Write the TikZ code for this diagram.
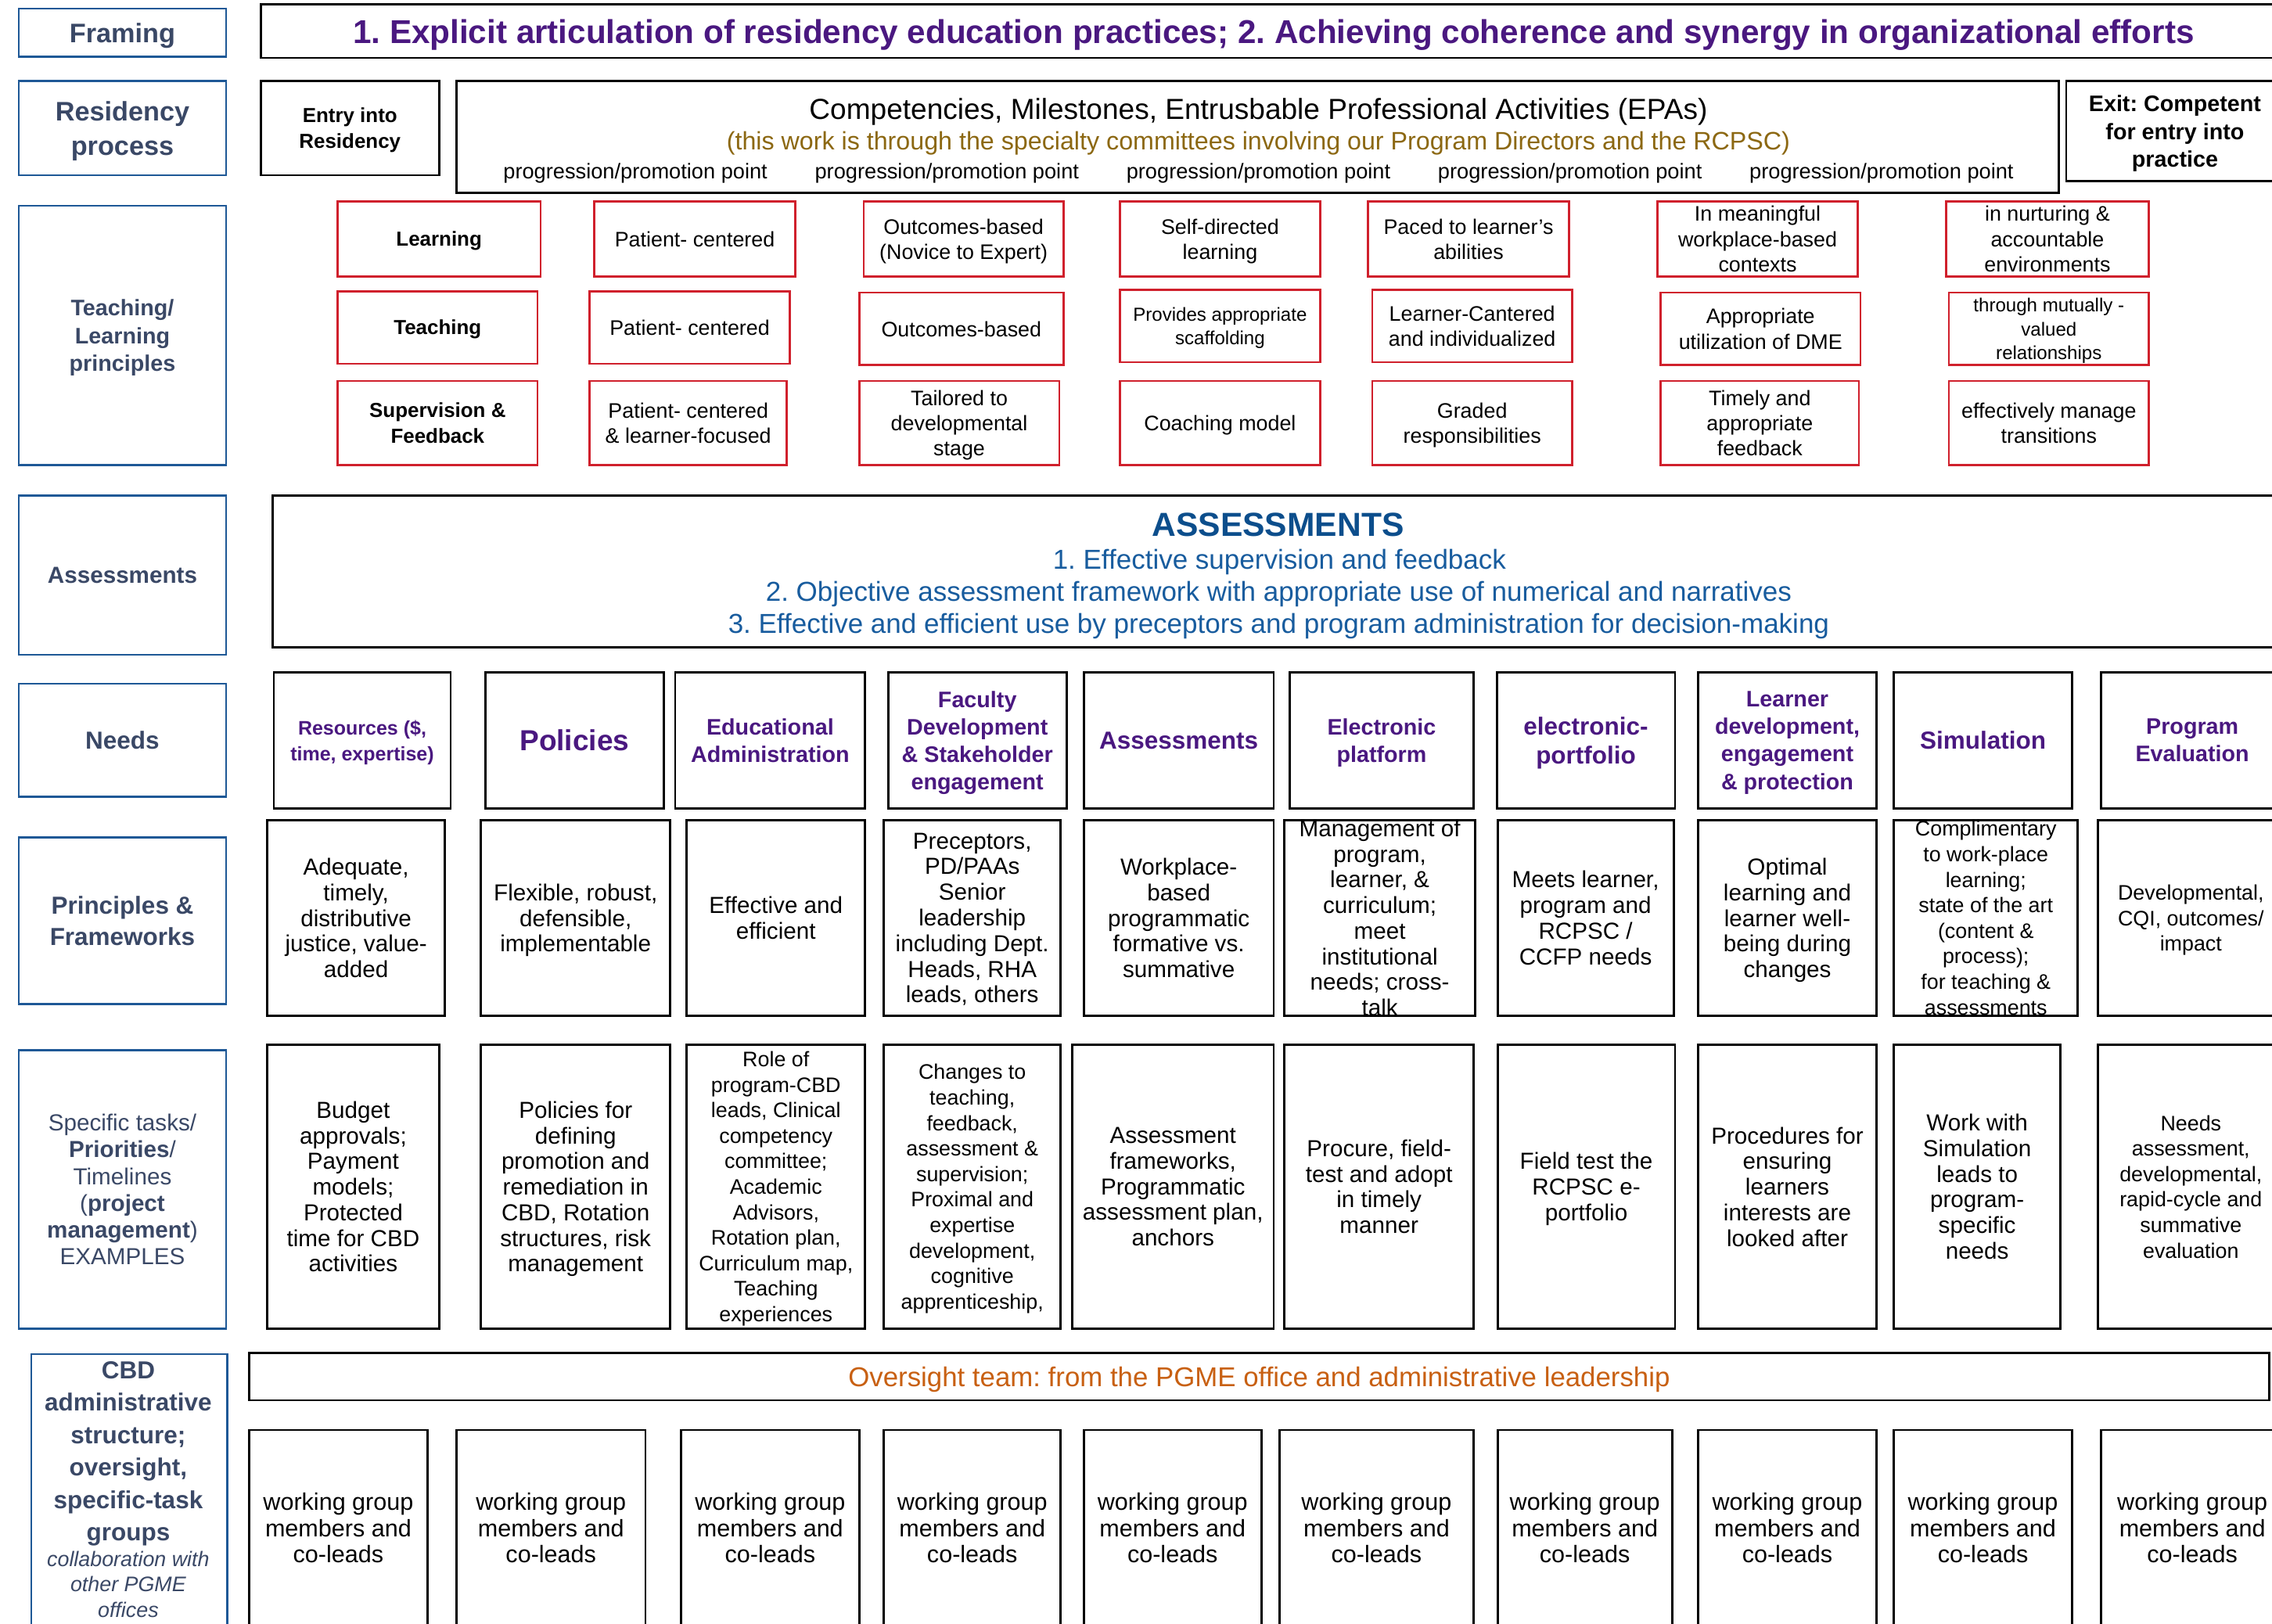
\documentclass[tikz,border=0pt]{standalone}
\usepackage{fontspec}
\setmainfont{Liberation Sans}
\frenchspacing
\definecolor{labblue}{RGB}{30,88,150}
\definecolor{labtext}{RGB}{58,72,102}
\definecolor{ttlpurple}{RGB}{74,24,128}
\definecolor{asmblue}{RGB}{12,78,140}
\definecolor{asmline}{RGB}{24,92,158}
\definecolor{olivetxt}{RGB}{140,104,18}
\definecolor{ovorange}{RGB}{200,96,18}
\definecolor{boxred}{RGB}{208,32,44}
\tikzset{
  labbox/.style={draw=labblue, line width=1.4pt, inner sep=0pt},
  blkbox/.style={draw=black, line width=1.5pt, inner sep=0pt},
  redbox/.style={draw=boxred, line width=1.4pt, inner sep=0pt},
  txt/.style={align=center, inner sep=0pt, text=black, text depth=0pt},
  labb/.style={text=labtext, font=\bfseries\fontsize{15.5}{19}\selectfont},
  rtxt/.style={font=\fontsize{14.5}{17.5}\selectfont},
  rbold/.style={font=\bfseries\fontsize{14}{18}\selectfont},
  rsmall/.style={font=\fontsize{13}{16.5}\selectfont},
  ndb/.style={text=ttlpurple, font=\bfseries\fontsize{15.5}{19}\selectfont},
  ndbig/.style={text=ttlpurple, font=\bfseries\fontsize{17}{20}\selectfont},
  prt/.style={font=\fontsize{16}{17.7}\selectfont},
  prsm/.style={font=\fontsize{14.5}{17.6}\selectfont},
  asmtxt/.style={text=asmline, font=\fontsize{18.9}{22}\selectfont},
}
\newcommand{\cell}[8]{%
  \pgfmathsetmacro\qqcx{(#3+#5)/2}%
  \pgfmathsetmacro\qqcy{(#4+#6)/2}%
  \pgfmathsetmacro\qqw{#5-#3}%
  \pgfmathsetmacro\qqh{#6-#4}%
  \node[#2, minimum width=\qqw pt, minimum height=\qqh pt] (#1) at (\qqcx,\qqcy) {};%
  \node[txt, #7] (#1t) at (#1.center) {#8};%
}
\begin{document}
\begin{tikzpicture}[x=1pt, y=-1pt]
\useasboundingbox (0,0) rectangle (1568,1120.4);
\fill[white] (0,0) rectangle (1568,1120.4);
\clip (0,0) rectangle (1568,1120.4);

% ---------- left labels ----------
\cell{lFr}{labbox}{13}{6}{156}{39}{labb, font=\bfseries\fontsize{18.5}{22}\selectfont}{Framing}
\cell{lRe}{labbox}{13}{56}{156}{121}{labb, font=\bfseries\fontsize{18.5}{24}\selectfont}{Residency\\process}
\cell{lTe}{labbox}{13}{142}{156}{321}{labb}{Teaching/\\Learning\\principles}
\cell{lAs}{labbox}{13}{342}{156}{452}{labb, font=\bfseries\fontsize{16}{19}\selectfont}{Assessments}
\cell{lNe}{labbox}{13}{472}{156}{550}{labb, font=\bfseries\fontsize{17}{20}\selectfont}{Needs}
\cell{lPr}{labbox}{13}{578}{156}{693}{labb, font=\bfseries\fontsize{17}{22}\selectfont}{Principles \&\\Frameworks}
\cell{lSp}{labbox}{13}{725}{156}{917}{text=labtext, font=\fontsize{16}{18.5}\selectfont}{Specific tasks/\\\textbf{Priorities}/\\Timelines\\(\textbf{project}\\\textbf{management})\\EXAMPLES}
\node[labbox, minimum width=135pt, minimum height=190pt, anchor=north west] (lCb) at (21,934) {};
\node[txt, text=labtext, font=\bfseries\fontsize{17}{22.4}\selectfont] (lCbt) at (88.5,1001.5) {CBD\\administrative\\structure;\\oversight,\\specific-task\\groups};
\node[txt, text=labtext, font=\itshape\fontsize{14.5}{17.5}\selectfont] (lCbi) at (88.5,1093.5) {collaboration with\\other PGME\\offices};

% ---------- framing ----------
\cell{ttl}{blkbox}{180}{3}{1578}{40}{text=ttlpurple, font=\bfseries\fontsize{22.8}{26}\selectfont}{1. Explicit articulation of residency education practices; 2. Achieving coherence and synergy in organizational efforts}

% ---------- residency process ----------
\cell{entry}{blkbox}{180}{56}{303}{121}{font=\bfseries\fontsize{14}{18}\selectfont}{Entry into\\Residency}
\node[blkbox, minimum width=1106pt, minimum height=77pt] (comp) at (868,94.5) {};
\node[txt, font=\fontsize{20}{24}\selectfont] (compa) at (868.5,75) {Competencies, Milestones, Entrusbable Professional Activities (EPAs)};
\node[txt, text=olivetxt, font=\fontsize{17.4}{20}\selectfont] (compb) at (868.5,97) {(this work is through the specialty committees involving our Program Directors and the RCPSC)};
\foreach \i/\xx in {1/438.5, 2/653.5, 3/868.5, 4/1083.5, 5/1298.5}
  \node[txt, font=\fontsize{14.7}{17}\selectfont] (pp\i) at (\xx,118) {progression/promotion point};
\cell{exit}{blkbox}{1426}{56}{1576}{125}{font=\bfseries\fontsize{15.5}{19}\selectfont}{Exit: Competent\\for entry into\\practice}

% ---------- teaching / learning principles ----------
\cell{r11}{redbox}{233}{139}{373}{191}{rbold}{Learning}
\cell{r12}{redbox}{410}{139}{549}{191}{rtxt}{Patient- centered}
\cell{r13}{redbox}{596}{139}{734}{191}{rtxt}{Outcomes-based\\(Novice to Expert)}
\cell{r14}{redbox}{773}{139}{911}{191}{rtxt}{Self-directed\\learning}
\cell{r15}{redbox}{944}{139}{1083}{191}{rtxt}{Paced to learner’s\\abilities}
\cell{r16}{redbox}{1144}{139}{1282}{191}{rtxt}{In meaningful\\workplace-based\\contexts}
\cell{r17}{redbox}{1343}{139}{1483}{191}{rtxt}{in nurturing \&\\accountable\\environments}
\cell{r21}{redbox}{233}{201}{371}{251}{rbold}{Teaching}
\cell{r22}{redbox}{407}{201}{545}{251}{rtxt}{Patient- centered}
\cell{r23}{redbox}{593}{202}{734}{252}{rtxt}{Outcomes-based}
\cell{r24}{redbox}{773}{200}{911}{250}{rsmall}{Provides appropriate\\scaffolding}
\cell{r25}{redbox}{947}{200}{1085}{250}{rtxt}{Learner-Cantered\\and individualized}
\cell{r26}{redbox}{1146}{202}{1284}{252}{rtxt}{Appropriate\\utilization of DME}
\cell{r27}{redbox}{1345}{202}{1483}{252}{rsmall}{through mutually -\\valued\\relationships}
\cell{r31}{redbox}{233}{263}{371}{321}{rbold}{Supervision \&\\Feedback}
\cell{r32}{redbox}{407}{263}{543}{321}{rtxt}{Patient- centered\\\& learner-focused}
\cell{r33}{redbox}{593}{263}{731}{321}{rtxt}{Tailored to\\developmental\\stage}
\cell{r34}{redbox}{773}{263}{911}{321}{rtxt}{Coaching model}
\cell{r35}{redbox}{947}{263}{1085}{321}{rtxt}{Graded\\responsibilities}
\cell{r36}{redbox}{1146}{263}{1283}{321}{rtxt}{Timely and\\appropriate\\feedback}
\cell{r37}{redbox}{1345}{263}{1483}{321}{rtxt}{effectively manage\\transitions}

% ---------- assessments ----------
\node[blkbox, minimum width=1388pt, minimum height=105pt] (asm) at (882,394.5) {};
\node[txt, text=asmblue, font=\bfseries\fontsize{23}{26}\selectfont] (asmh) at (882,362) {ASSESSMENTS};
\node[txt, asmtxt] (asm1) at (883,386) {1. Effective supervision and feedback};
\node[txt, asmtxt] (asm2) at (882.5,408) {2. Objective assessment framework with appropriate use of numerical and narratives};
\node[txt, asmtxt] (asm3) at (882.5,430) {3. Effective and efficient use by preceptors and program administration for decision-making};

% ---------- needs ----------
\cell{n1}{blkbox}{189}{464}{311}{558}{ndb, font=\bfseries\fontsize{13.5}{18}\selectfont}{Resources (\$,\\time, expertise)}
\cell{n2}{blkbox}{335}{464}{458}{558}{ndb, font=\bfseries\fontsize{20}{24}\selectfont}{Policies}
\cell{n3}{blkbox}{466}{464}{597}{558}{ndb}{Educational\\Administration}
\cell{n4}{blkbox}{613}{464}{736}{558}{ndb}{Faculty\\Development\\\& Stakeholder\\engagement}
\cell{n5}{blkbox}{748}{464}{879}{558}{ndbig}{Assessments}
\cell{n6}{blkbox}{890}{464}{1017}{558}{ndb}{Electronic\\platform}
\cell{n7}{blkbox}{1033}{464}{1156}{558}{ndbig}{electronic-\\portfolio}
\cell{n8}{blkbox}{1172}{464}{1295}{558}{ndb}{Learner\\development,\\engagement\\\& protection}
\cell{n9}{blkbox}{1307}{464}{1430}{558}{ndbig}{Simulation}
\cell{n10}{blkbox}{1450}{464}{1576}{558}{ndb}{Program\\Evaluation}

% ---------- principles & frameworks ----------
\cell{p1}{blkbox}{184.5}{566}{307}{701}{prt}{Adequate,\\timely,\\distributive\\justice, value-\\added}
\cell{p2}{blkbox}{332}{566}{462.5}{701}{prt}{Flexible, robust,\\defensible,\\implementable}
\cell{p3}{blkbox}{474}{566}{597}{701}{prt}{Effective and\\efficient}
\cell{p4}{blkbox}{610}{566}{732}{701}{prt}{Preceptors,\\PD/PAAs\\Senior\\leadership\\including Dept.\\Heads, RHA\\leads, others}
\cell{p5}{blkbox}{748}{566}{879}{701}{prt}{Workplace-\\based\\programmatic\\formative vs.\\summative}
\cell{p6}{blkbox}{886.5}{566}{1018}{701}{prt}{Management of\\program,\\learner, \&\\curriculum;\\meet\\institutional\\needs; cross-\\talk}
\cell{p7}{blkbox}{1033.5}{566}{1155}{701}{prt}{Meets learner,\\program and\\RCPSC /\\CCFP needs}
\cell{p8}{blkbox}{1172}{566}{1295}{701}{prt}{Optimal\\learning and\\learner well-\\being during\\changes}
\cell{p9}{blkbox}{1307}{566}{1434}{701}{prsm}{Complimentary\\to work-place\\learning;\\state of the art\\(content \&\\process);\\for teaching \&\\assessments}
\cell{p10}{blkbox}{1448}{566}{1576}{701}{prsm}{Developmental,\\CQI, outcomes/\\impact}

% ---------- specific tasks ----------
\cell{s1}{blkbox}{184.5}{721}{303}{917}{prt}{Budget\\approvals;\\Payment\\models;\\Protected\\time for CBD\\activities}
\cell{s2}{blkbox}{332}{721}{462.5}{917}{prt}{Policies for\\defining\\promotion and\\remediation in\\CBD, Rotation\\structures, risk\\management}
\cell{s3}{blkbox}{474}{721}{597}{917}{prsm}{Role of\\program-CBD\\leads, Clinical\\competency\\committee;\\Academic\\Advisors,\\Rotation plan,\\Curriculum map,\\Teaching\\experiences}
\cell{s4}{blkbox}{610}{721}{732}{917}{prsm}{Changes to\\teaching,\\feedback,\\assessment \&\\supervision;\\Proximal and\\expertise\\development,\\cognitive\\apprenticeship,}
\cell{s5}{blkbox}{740}{721}{879}{917}{prt}{Assessment\\frameworks,\\Programmatic\\assessment plan,\\anchors}
\cell{s6}{blkbox}{886.5}{721}{1017}{917}{prt}{Procure, field-\\test and adopt\\in timely\\manner}
\cell{s7}{blkbox}{1033.5}{721}{1156}{917}{prt}{Field test the\\RCPSC e-\\portfolio}
\cell{s8}{blkbox}{1172}{721}{1295}{917}{prt}{Procedures for\\ensuring\\learners\\interests are\\looked after}
\cell{s9}{blkbox}{1307}{721}{1422}{917}{prt}{Work with\\Simulation\\leads to\\program-\\specific\\needs}
\cell{s10}{blkbox}{1448}{721}{1576}{917}{prsm}{Needs\\assessment,\\developmental,\\rapid-cycle and\\summative\\evaluation}

% ---------- CBD structure ----------
\cell{ov}{blkbox}{172}{934}{1566}{966.5}{text=ovorange, font=\fontsize{18.8}{22}\selectfont}{Oversight team: from the PGME office and administrative leadership}
\foreach \i/\xa/\xb in {1/172/295, 2/315/445.5, 3/470/593, 4/610/732, 5/748/870.5, 6/883/1017, 7/1033.5/1154, 8/1172/1295, 9/1307/1430, 10/1450/1576}{
  \cell{w\i}{blkbox}{\xa}{987}{\xb}{1122}{font=\fontsize{16.5}{18}\selectfont}{working group\\members and\\co-leads}
}
\end{tikzpicture}
\end{document}
